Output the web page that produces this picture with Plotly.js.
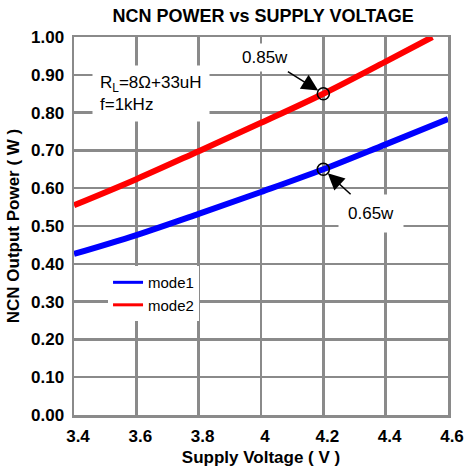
<!DOCTYPE html>
<html>
<head>
<meta charset="utf-8">
<script src="https://cdn.plot.ly/plotly-3.0.1.min.js"></script>
<style>html,body{margin:0;padding:0;background:#fff;}#chart{width:470px;height:468px;}</style>
</head>
<body>
<div id="chart"></div>
<script>
// Data
const voltage1 = [3.4, 3.6, 3.8, 4.0, 4.2, 4.4, 4.6];
const mode1 = [0.426, 0.476, 0.532, 0.590, 0.650, 0.716, 0.783];
const voltage2 = [3.4, 3.6, 3.8, 4.0, 4.2, 4.4, 4.55];
const mode2 = [0.555, 0.624, 0.698, 0.773, 0.850, 0.935, 1.000];
const markX = [4.2, 4.2];
const markY = [0.85, 0.65];
const markLabels = ['0.85w', '0.65w'];
const seriesNames = ['mode1', 'mode2'];
const seriesColors = ['#0000ff', '#ff0000'];

const FONT = 'Liberation Sans, Arial, sans-serif';
const GRID = '#8a8a8a';

const traces = [
  {x: voltage1, y: mode1, mode: 'lines', name: seriesNames[0], showlegend: false,
   line: {color: seriesColors[0], width: 6, shape: 'spline'}},
  {x: voltage2, y: mode2, mode: 'lines', name: seriesNames[1], showlegend: false,
   line: {color: seriesColors[1], width: 6, shape: 'spline'}},
  {x: markX, y: markY, mode: 'markers', showlegend: false, hoverinfo: 'skip',
   marker: {symbol: 'circle-open', size: 12, color: '#000', line: {width: 1.6, color: '#000'}}},
  // legend entries (thinner sample lines, as in the reference legend)
  {x: [null], y: [null], mode: 'lines', name: seriesNames[0], line: {color: seriesColors[0], width: 3}},
  {x: [null], y: [null], mode: 'lines', name: seriesNames[1], line: {color: seriesColors[1], width: 3}}
];

const layout = {
  width: 470, height: 468,
  margin: {l: 74, r: 22, t: 37, b: 53},
  paper_bgcolor: '#fff', plot_bgcolor: '#fff',
  font: {family: FONT, color: '#000'},
  title: {text: 'NCN POWER vs SUPPLY VOLTAGE', font: {family: FONT, size: 18, weight: 'bold', color: '#000'},
          x: 0.56, xanchor: 'center', y: 0.966, yanchor: 'middle'},
  xaxis: {range: [3.4, 4.6], dtick: 0.2, tick0: 3.4, showgrid: true, gridcolor: GRID, gridwidth: 2.5,
          zeroline: false, showline: true, linecolor: GRID, linewidth: 2.5, mirror: true,
          ticks: '', ticklabelshift: 4, ticklabelstandoff: 4,
          tickfont: {family: FONT, size: 17, weight: 'bold', color: '#000'},
          title: {text: 'Supply Voltage ( V )', standoff: 6, font: {family: FONT, size: 17, weight: 'bold', color: '#000'}}},
  yaxis: {range: [0, 1.0], dtick: 0.1, tick0: 0, tickformat: '.2f', showgrid: true, gridcolor: GRID, gridwidth: 2.5,
          zeroline: false, showline: true, linecolor: GRID, linewidth: 2.5, mirror: true,
          ticks: '', ticklabelstandoff: 4,
          tickfont: {family: FONT, size: 17, weight: 'bold', color: '#000'},
          title: {text: 'NCN Output Power ( W )', standoff: 7, font: {family: FONT, size: 17, weight: 'bold', color: '#000'}}},
  showlegend: true,
  legend: {x: 0.091, y: 0.394, xanchor: 'left', yanchor: 'top', bgcolor: '#fff', borderwidth: 0,
           font: {family: FONT, size: 15, color: '#000'}, itemwidth: 30, tracegroupgap: 0},
  annotations: [
    {xref: 'paper', yref: 'paper', x: 0.206, y: 0.851, xanchor: 'center', yanchor: 'middle',
     text: 'R<sub>L</sub>=8Ω+33uH<br>f=1kHz', align: 'left', showarrow: false,
     bgcolor: '#fff', borderpad: 7, font: {family: FONT, size: 17, color: '#000'}},
    {x: markX[0], y: markY[0], text: markLabels[0], showarrow: true, ax: -58, ay: -36,
     arrowhead: 2, arrowsize: 2.2, arrowwidth: 1.5, arrowcolor: '#000', standoff: 6,
     bgcolor: '#fff', borderpad: 4, font: {family: FONT, size: 17, color: '#000'}},
    {x: markX[1], y: markY[1], text: markLabels[1], showarrow: true, ax: 48, ay: 44,
     arrowhead: 2, arrowsize: 2.2, arrowwidth: 1.5, arrowcolor: '#000', standoff: 6,
     bgcolor: '#fff', borderpad: 9, font: {family: FONT, size: 17, color: '#000'}}
  ]
};

Plotly.newPlot('chart', traces, layout, {displayModeBar: false, staticPlot: true});
</script>
</body>
</html>
